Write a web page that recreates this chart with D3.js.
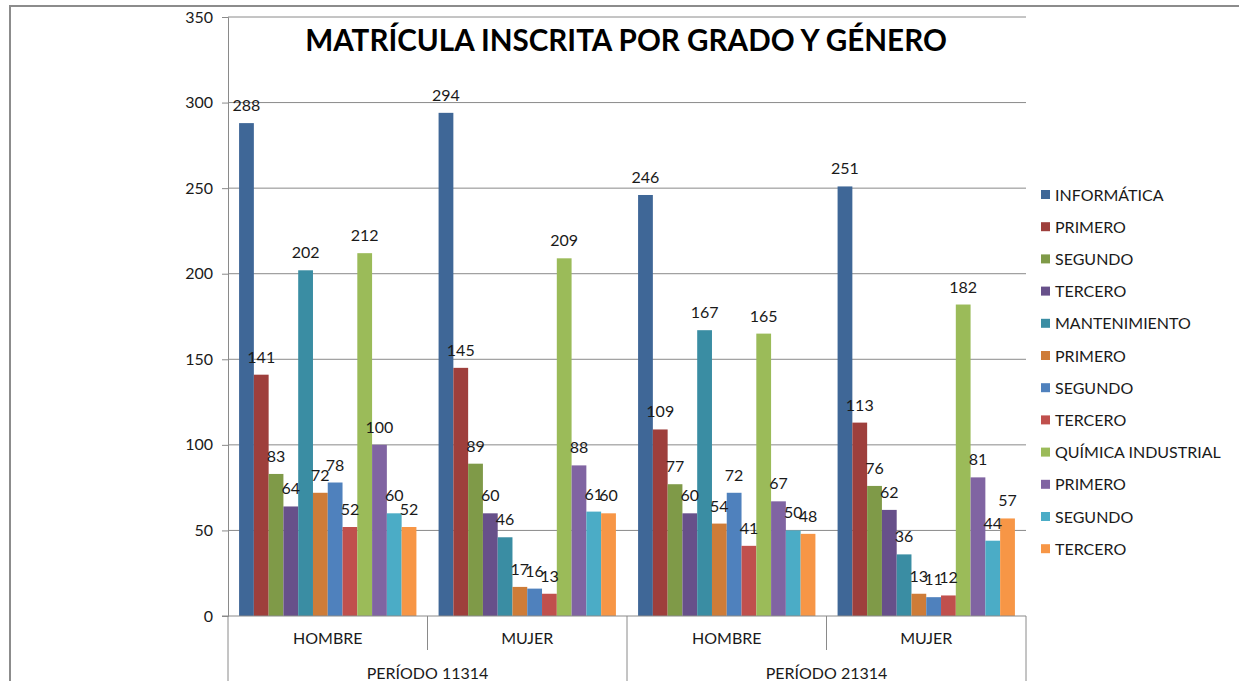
<!DOCTYPE html>
<html><head><meta charset="utf-8">
<script src="https://cdn.jsdelivr.net/npm/d3@7"></script>
<style>body{margin:0;background:#fff}svg{display:block}text{font-family:Lato,"Open Sans",sans-serif;fill:#1a1a1a}</style>
</head><body>
<svg id="c" width="1239" height="681"></svg>
<script>
const title = "MATRÍCULA INSCRITA POR GRADO Y GÉNERO";
const categories = ["HOMBRE","MUJER","HOMBRE","MUJER"];
const periods = ["PERÍODO 11314","PERÍODO 21314"];
const seriesNames = ["INFORMÁTICA","PRIMERO","SEGUNDO","TERCERO","MANTENIMIENTO","PRIMERO","SEGUNDO","TERCERO","QUÍMICA INDUSTRIAL","PRIMERO","SEGUNDO","TERCERO"];
const colors = ["#3F6797","#9E3F3C","#7F9A48","#67508A","#3A8DA3","#CE7C38","#4F81BD","#C0504D","#9BBB59","#8064A2","#4BACC6","#F79646"];
const valuesH1 = [288,141,83,64,202,72,78,52,212,100,60,52];
const valuesM1 = [294,145,89,60,46,17,16,13,209,88,61,60];
const valuesH2 = [246,109,77,60,167,54,72,41,165,67,50,48];
const valuesM2 = [251,113,76,62,36,13,11,12,182,81,44,57];
const yTicks = [0,50,100,150,200,250,300,350];

const groups = [valuesH1,valuesM1,valuesH2,valuesM2];
const svg = d3.select("#c");
const L=228,R=1026,T=17,B=616;
const x0 = d3.scaleBand().domain(d3.range(4)).range([L,R]);
const gap = 1.5;
const bw = x0.bandwidth()/(12+gap);
const x1 = d3.scaleBand().domain(d3.range(12)).range([bw*gap/2, x0.bandwidth()-bw*gap/2]);
const y = d3.scaleLinear().domain([0,350]).range([B,T]);
const grid="#8a8a8a";

// outer frame
svg.append("rect").attr("x",10).attr("y",6).attr("width",1300).attr("height",700).attr("fill","none").attr("stroke","#8c8c8c").attr("stroke-width",2);

// gridlines
svg.append("g").selectAll("line").data(yTicks.slice(1)).join("line")
 .attr("x1",L).attr("x2",R).attr("y1",d=>y(d)).attr("y2",d=>y(d)).attr("stroke",grid).attr("stroke-width",1);

// y axis
const ya = svg.append("g").attr("transform",`translate(${L},0)`).call(d3.axisLeft(y).tickValues(yTicks).tickSize(6).tickPadding(9));
ya.select(".domain").attr("stroke",grid);
ya.selectAll(".tick line").attr("stroke",grid);
ya.selectAll("text").style("font-size","16px").style("font-family","Lato,'Open Sans',sans-serif").attr("fill","#1a1a1a");

// bars
groups.forEach((vals,gi)=>{
  const g = svg.append("g").attr("transform",`translate(${x0(gi)},0)`);
  g.selectAll("rect").data(vals).join("rect")
   .attr("x",(d,i)=>x1(i)).attr("width",x1.bandwidth()).attr("y",d=>y(d)).attr("height",d=>B-y(d)).attr("fill",(d,i)=>colors[i]);
  g.selectAll("text").data(vals).join("text")
   .attr("x",(d,i)=>x1(i)+x1.bandwidth()/2).attr("y",d=>y(d)-12).attr("text-anchor","middle")
   .style("font-size","16px").text(d=>d);
});

// x axis
svg.append("line").attr("x1",L-6).attr("x2",R).attr("y1",B).attr("y2",B).attr("stroke",grid);
[0,1,2,3,4].forEach(i=>{
  const xx = i<4? x0(i): R;
  const long = (i%2===0);
  svg.append("line").attr("x1",xx).attr("x2",xx).attr("y1",B).attr("y2",long?681:650).attr("stroke",grid);
});
svg.append("g").selectAll("text").data(categories).join("text")
 .attr("x",(d,i)=>x0(i)+x0.bandwidth()/2).attr("y",644).attr("text-anchor","middle").style("font-size","16px").text(d=>d);
svg.append("g").selectAll("text").data(periods).join("text")
 .attr("x",(d,i)=>x0(i*2)+x0.bandwidth()).attr("y",679).attr("text-anchor","middle").style("font-size","16px").text(d=>d);

// title
const t = svg.append("text").attr("x",626).attr("y",51).attr("text-anchor","middle")
 .style("font-size","32px").style("font-weight","bold").style("fill","#000").text(title);
const tw = t.node().getComputedTextLength();
t.style("font-size",(32*642/tw)+"px");

// legend
const lg = svg.append("g").attr("transform","translate(1041,195)");
const items = lg.selectAll("g").data(seriesNames).join("g").attr("transform",(d,i)=>`translate(0,${i*32.2})`);
items.append("rect").attr("x",0).attr("y",-5).attr("width",9).attr("height",9).attr("fill",(d,i)=>colors[i]);
items.append("text").attr("x",14).attr("y",5.5).style("font-size","16px").text(d=>d);
</script>
</body></html>
